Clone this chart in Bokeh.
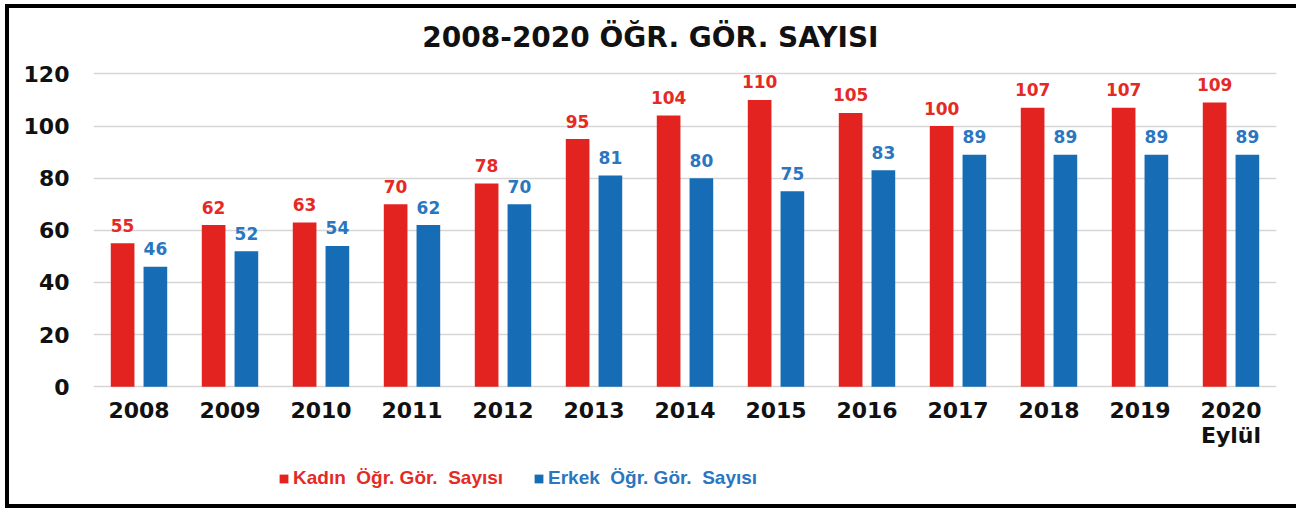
from bokeh.plotting import figure
from bokeh.models import ColumnDataSource, Range1d, FactorRange, Legend, LegendItem, FixedTicker, Label
from bokeh.transform import dodge
from bokeh.core.properties import value
from bokeh.embed import file_html
from bokeh.resources import INLINE

years = ["2008", "2009", "2010", "2011", "2012", "2013", "2014",
         "2015", "2016", "2017", "2018", "2019", "2020\nEylül"]
kadin = [55, 62, 63, 70, 78, 95, 104, 110, 105, 100, 107, 107, 109]
erkek = [46, 52, 54, 62, 70, 81, 80, 75, 83, 89, 89, 89, 89]
y_ticks = [0, 20, 40, 60, 80, 100, 120]
title_text = "2008-2020 ÖĞR. GÖR. SAYISI"
kadin_name = "Kadın  Öğr. Gör.  Sayısı"
erkek_name = "Erkek  Öğr. Gör.  Sayısı"

RED = "#E3231F"
BLUE = "#166CB5"
RED_TXT = "#E52A25"
BLUE_TXT = "#2A76C0"
DARK = "#111111"

src = ColumnDataSource(dict(
    years=years, kadin=kadin, erkek=erkek,
    kadin_lbl=[str(v) for v in kadin], erkek_lbl=[str(v) for v in erkek],
))

p = figure(
    width=1291, height=504,
    x_range=FactorRange(*years, range_padding=0),
    y_range=Range1d(-41.3, 142.0),
    output_backend="svg", toolbar_location=None,
    min_border_left=84, min_border_right=24, min_border_top=8, min_border_bottom=18,
)
p.styles = {"border-left": "4px solid #000", "border-top": "4px solid #000",
            "border-bottom": "4px solid #000", "box-sizing": "border-box",
            "margin-left": "5px", "margin-top": "4px"}

# chart title, placed inside the (extended) frame
p.add_layout(Label(x=6.12, y=134, text=title_text, text_align="center",
                   text_baseline="middle", text_font="DejaVu Sans",
                   text_font_size="28px", text_font_style="bold", text_color=DARK))

off = 0.18
bw = 0.26
r_k = p.vbar(x=dodge("years", -off, range=p.x_range), top="kadin", width=bw,
             source=src, fill_color=RED, line_color=None)
r_e = p.vbar(x=dodge("years", off, range=p.x_range), top="erkek", width=bw,
             source=src, fill_color=BLUE, line_color=None)

p.text(x=dodge("years", -off, range=p.x_range), y="kadin", text="kadin_lbl", source=src,
       text_align="center", text_baseline="alphabetic", y_offset=-18,
       text_font=value("DejaVu Sans"), text_font_style="bold", text_font_size="17px",
       text_color=RED_TXT)
p.text(x=dodge("years", off, range=p.x_range), y="erkek", text="erkek_lbl", source=src,
       text_align="center", text_baseline="alphabetic", y_offset=-18,
       text_font=value("DejaVu Sans"), text_font_style="bold", text_font_size="17px",
       text_color=BLUE_TXT)

for ax in (p.xaxis[0], p.yaxis[0]):
    ax.axis_line_color = None
    ax.major_tick_line_color = None
    ax.minor_tick_line_color = None
    ax.major_tick_out = 0
    ax.major_tick_in = 0
    ax.major_label_text_font = "DejaVu Sans"
    ax.major_label_text_font_style = "bold"
    ax.major_label_text_color = DARK

p.yaxis.ticker = FixedTicker(ticks=y_ticks)
p.ygrid.ticker = FixedTicker(ticks=y_ticks)
p.yaxis.major_label_text_font_size = "22px"
p.yaxis.major_label_standoff = 24
p.xaxis.major_label_text_font_size = "22px"
p.xaxis.major_label_text_line_height = 1.0
p.xaxis.major_label_standoff = 11
p.xaxis.fixed_location = 0

p.xgrid.grid_line_color = None
p.ygrid.grid_line_color = "#D6D6D6"
p.ygrid.grid_line_width = 1.5
p.outline_line_color = None

def make_legend(renderer, label, color, x):
    lg = Legend(items=[LegendItem(label=label, renderers=[renderer])],
                location=(x, 5), orientation="horizontal",
                margin=0, padding=0, spacing=0,
                border_line_color=None, background_fill_alpha=0,
                glyph_width=11, glyph_height=11, label_standoff=4,
                label_text_font="Liberation Sans", label_text_font_style="bold",
                label_text_font_size="19px", label_text_color=color,
                label_height=20)
    p.add_layout(lg, "center")

make_legend(r_k, kadin_name, RED_TXT, 185)
make_legend(r_e, erkek_name, BLUE_TXT, 440)

open("out.html", "w").write(file_html(p, INLINE))
